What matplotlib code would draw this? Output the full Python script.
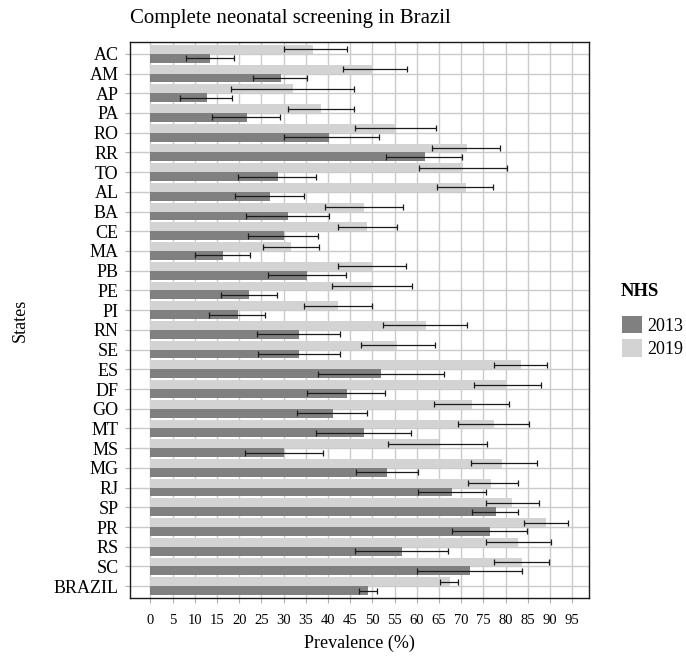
import numpy as np
import matplotlib
matplotlib.use("Agg")
import matplotlib.pyplot as plt
from matplotlib.patches import Patch

plt.rcParams["font.family"] = ["Liberation Serif", "DejaVu Serif"]

states = ["AC", "AM", "AP", "PA", "RO", "RR", "TO", "AL", "BA", "CE", "MA", "PB", "PE", "PI",
          "RN", "SE", "ES", "DF", "GO", "MT", "MS", "MG", "RJ", "SP", "PR", "RS", "SC", "BRAZIL"]

# prevalence (%) with 95% CI
prev_2013 = [13.5, 29.4, 12.7, 21.7, 40.3, 61.9, 28.8, 27.0, 31.0, 30.2, 16.3, 35.3, 22.2, 19.7,
             33.5, 33.5, 51.9, 44.2, 41.2, 48.2, 30.1, 53.4, 67.9, 77.9, 76.5, 56.6, 72.0, 49.1]
low_2013 = [8.0, 23.2, 6.6, 13.9, 30.0, 53.0, 19.8, 19.0, 21.6, 22.1, 10.0, 26.5, 15.8, 13.1,
            24.1, 24.3, 37.7, 35.2, 33.1, 37.3, 21.3, 46.3, 60.3, 72.4, 67.9, 46.1, 60.0, 47.0]
high_2013 = [18.9, 35.2, 18.4, 29.2, 51.4, 70.3, 37.4, 34.5, 40.3, 37.7, 22.5, 44.1, 28.5, 25.9,
             42.8, 42.7, 66.1, 52.8, 48.8, 58.7, 38.8, 60.3, 75.5, 82.9, 84.9, 67.0, 83.7, 51.1]

prev_2019 = [36.7, 50.1, 32.2, 38.5, 55.2, 71.4, 70.4, 71.0, 48.2, 48.9, 31.7, 50.1, 50.1, 42.3,
             62.1, 55.5, 83.4, 80.4, 72.5, 77.5, 65.1, 79.2, 76.8, 81.5, 89.2, 82.9, 83.7, 67.4]
low_2019 = [30.0, 43.4, 18.2, 31.0, 46.2, 63.5, 60.6, 64.5, 39.3, 42.3, 25.3, 42.3, 41.0, 34.7,
            52.4, 47.4, 77.3, 72.8, 63.8, 69.4, 53.5, 72.3, 71.6, 75.7, 84.2, 75.5, 77.4, 65.3]
high_2019 = [44.3, 57.8, 45.8, 45.8, 64.3, 78.8, 80.3, 77.2, 57.0, 55.6, 37.9, 57.5, 59.0, 49.9,
             71.4, 64.0, 89.4, 87.9, 80.8, 85.2, 75.9, 87.1, 82.8, 87.5, 94.1, 90.2, 89.8, 69.3]

years = ["2013", "2019"]
DARK = "#808080"
LIGHT = "#d3d3d3"
GRID = "#cbcbcb"

W, H = 686, 656
fig = plt.figure(figsize=(W / 100, H / 100), dpi=100)
ax = fig.add_axes([129.5 / W, 1 - 598 / H, (589 - 129.5) / W, (598 - 42) / H])

n = len(states)
ypos = np.arange(n)[::-1]
bh = 0.45

p13 = np.array(prev_2013)
p19 = np.array(prev_2019)
err13 = [p13 - np.array(low_2013), np.array(high_2013) - p13]
err19 = [p19 - np.array(low_2019), np.array(high_2019) - p19]

ax.barh(ypos + bh / 2, p19, height=bh, color=LIGHT, zorder=2)
ax.barh(ypos - bh / 2, p13, height=bh, color=DARK, zorder=2)
ax.errorbar(p19, ypos + bh / 2, xerr=err19, fmt="none", ecolor="#1a1a1a",
            elinewidth=0.9, capsize=2.2, capthick=0.9, zorder=3)
ax.errorbar(p13, ypos - bh / 2, xerr=err13, fmt="none", ecolor="#1a1a1a",
            elinewidth=0.9, capsize=2.2, capthick=0.9, zorder=3)

ax.set_xlim(-4.7, 98.8)
ax.set_ylim(-0.6, n - 1 + 0.6)
ax.set_xticks(np.arange(0, 100, 5))
ax.set_yticks(ypos)
ax.set_yticklabels(states)
ax.tick_params(axis="y", labelsize=13, length=3.6, width=0.8, color="#b0b0b0", pad=4.3)
ax.tick_params(axis="x", labelsize=10.5, length=3.6, width=0.8, color="#b0b0b0", pad=8)

ax.set_axisbelow(True)
ax.grid(True, color=GRID, lw=1.0)
for s in ax.spines.values():
    s.set_color("#1a1a1a")
    s.set_linewidth(1.0)

ax.set_title("Complete neonatal screening in Brazil", loc="left", fontsize=15, pad=14)
ax.set_xlabel("Prevalence (%)", fontsize=13, va="center")
ax.xaxis.set_label_coords(0.5, (598 - 643) / 556)
ax.set_ylabel("States", fontsize=13, va="center")
ax.yaxis.set_label_coords((20 - 129.5) / 459.5, 0.5)

# legend: title placed on its own, entries below it
fig.text(621 / W, 1 - 292 / H, "NHS", fontsize=13.5, weight="bold", ha="left", va="center")
handles = [Patch(facecolor=DARK), Patch(facecolor=LIGHT)]
leg = ax.legend(handles, years, loc="upper left",
                bbox_to_anchor=(613 / W, 1 - 307 / H), bbox_transform=fig.transFigure,
                frameon=False, fontsize=13, borderpad=0, handlelength=1.1, handleheight=1.1,
                handletextpad=0.3, labelspacing=0.25)

fig.savefig("out.png", dpi=100)
